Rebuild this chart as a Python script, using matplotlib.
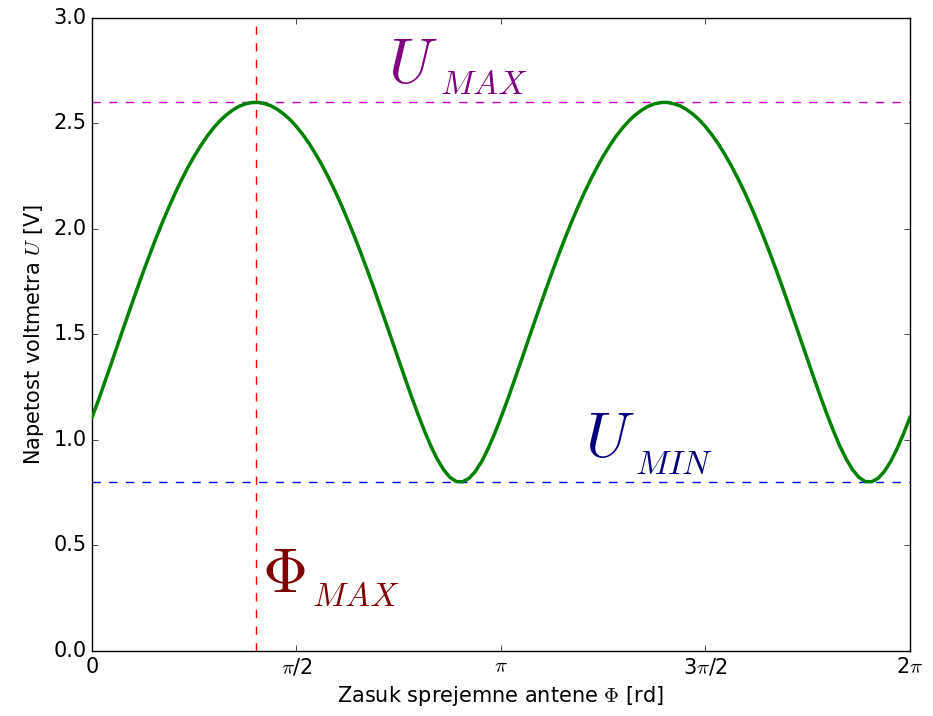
import numpy as np
import matplotlib

matplotlib.use("Agg")
import matplotlib.pyplot as plt

plt.style.use("classic")
plt.rcParams["mathtext.fontset"] = "cm"
plt.rcParams["font.family"] = "DejaVu Sans"

# voltmeter reading, one point every pi/64 rad (one period = pi)
U_ONE_PERIOD = [
    1.107, 1.188, 1.274, 1.361, 1.450, 1.538, 1.625, 1.711,
    1.795, 1.876, 1.955, 2.030, 2.101, 2.169, 2.232, 2.291,
    2.345, 2.394, 2.439, 2.478, 2.512, 2.540, 2.563, 2.581,
    2.593, 2.599, 2.600, 2.594, 2.584, 2.567, 2.545, 2.518,
    2.485, 2.447, 2.404, 2.355, 2.302, 2.244, 2.182, 2.115,
    2.044, 1.970, 1.892, 1.811, 1.728, 1.642, 1.555, 1.467,
    1.379, 1.291, 1.205, 1.123, 1.045, 0.973, 0.911, 0.860,
    0.823, 0.803, 0.802, 0.818, 0.851, 0.899, 0.960, 1.030,
]
U_VALUES = U_ONE_PERIOD * 2 + [U_ONE_PERIOD[0]]
PHI_STEPS = list(range(len(U_VALUES)))  # multiples of pi/64

U_MAX = 2.6
U_MIN = 0.8
PHI_MAX_FRAC = 0.4  # phi_max / pi

X_TICK_FRACS = [0, 0.5, 1, 1.5, 2]
X_TICK_LABELS = ["0", r"$\pi$/2", r"$\pi$", r"3$\pi$/2", r"2$\pi$"]

# annotation labels: (main symbol, subscript, colour)
LABELS = [
    (r"$U$", r"$MAX$", "purple", (2.274, 2.69), (2.673, 2.640)),
    (r"$U$", r"$MIN$", "navy", (3.787, 0.919), (4.171, 0.839)),
    (r"$\Phi$", r"$MAX$", "maroon", (1.306, 0.28), (1.690, 0.213)),
]


def main() -> None:
    phi = np.array(PHI_STEPS) * np.pi / 64
    phi_max = PHI_MAX_FRAC * np.pi

    fig = plt.figure(figsize=(9.33, 7.16), dpi=100, facecolor="white")
    ax = fig.add_axes([0.0986, 0.0908, 0.8767, 0.8841])

    ax.plot(phi, U_VALUES, color="g", linewidth=2.5, zorder=3)
    ax.axhline(U_MAX, color="m", linestyle="--", linewidth=1.0)
    ax.axhline(U_MIN, color="b", linestyle="--", linewidth=1.0)
    ax.axvline(phi_max, color="r", linestyle="--", linewidth=1.0)

    for main_txt, sub_txt, color, main_xy, sub_xy in LABELS:
        ax.text(*main_xy, main_txt, color=color, fontsize=45, va="baseline")
        ax.text(*sub_xy, sub_txt, color=color, fontsize=24, va="baseline")

    ax.set_xlim(0, 2 * np.pi)
    ax.set_ylim(0, 3.0)
    ax.set_xticks([f * np.pi for f in X_TICK_FRACS])
    ax.set_xticklabels(X_TICK_LABELS)
    ax.set_yticks(np.arange(0, 3.01, 0.5))
    ax.tick_params(axis="both", labelsize=15)

    ax.set_xlabel(r"Zasuk sprejemne antene $\Phi$ [rd]", fontsize=15)
    ax.set_ylabel(r"Napetost voltmetra $U$ [V]", fontsize=15)

    fig.savefig("out.png", dpi=100, facecolor="white")
    plt.close(fig)


if __name__ == "__main__":
    main()
